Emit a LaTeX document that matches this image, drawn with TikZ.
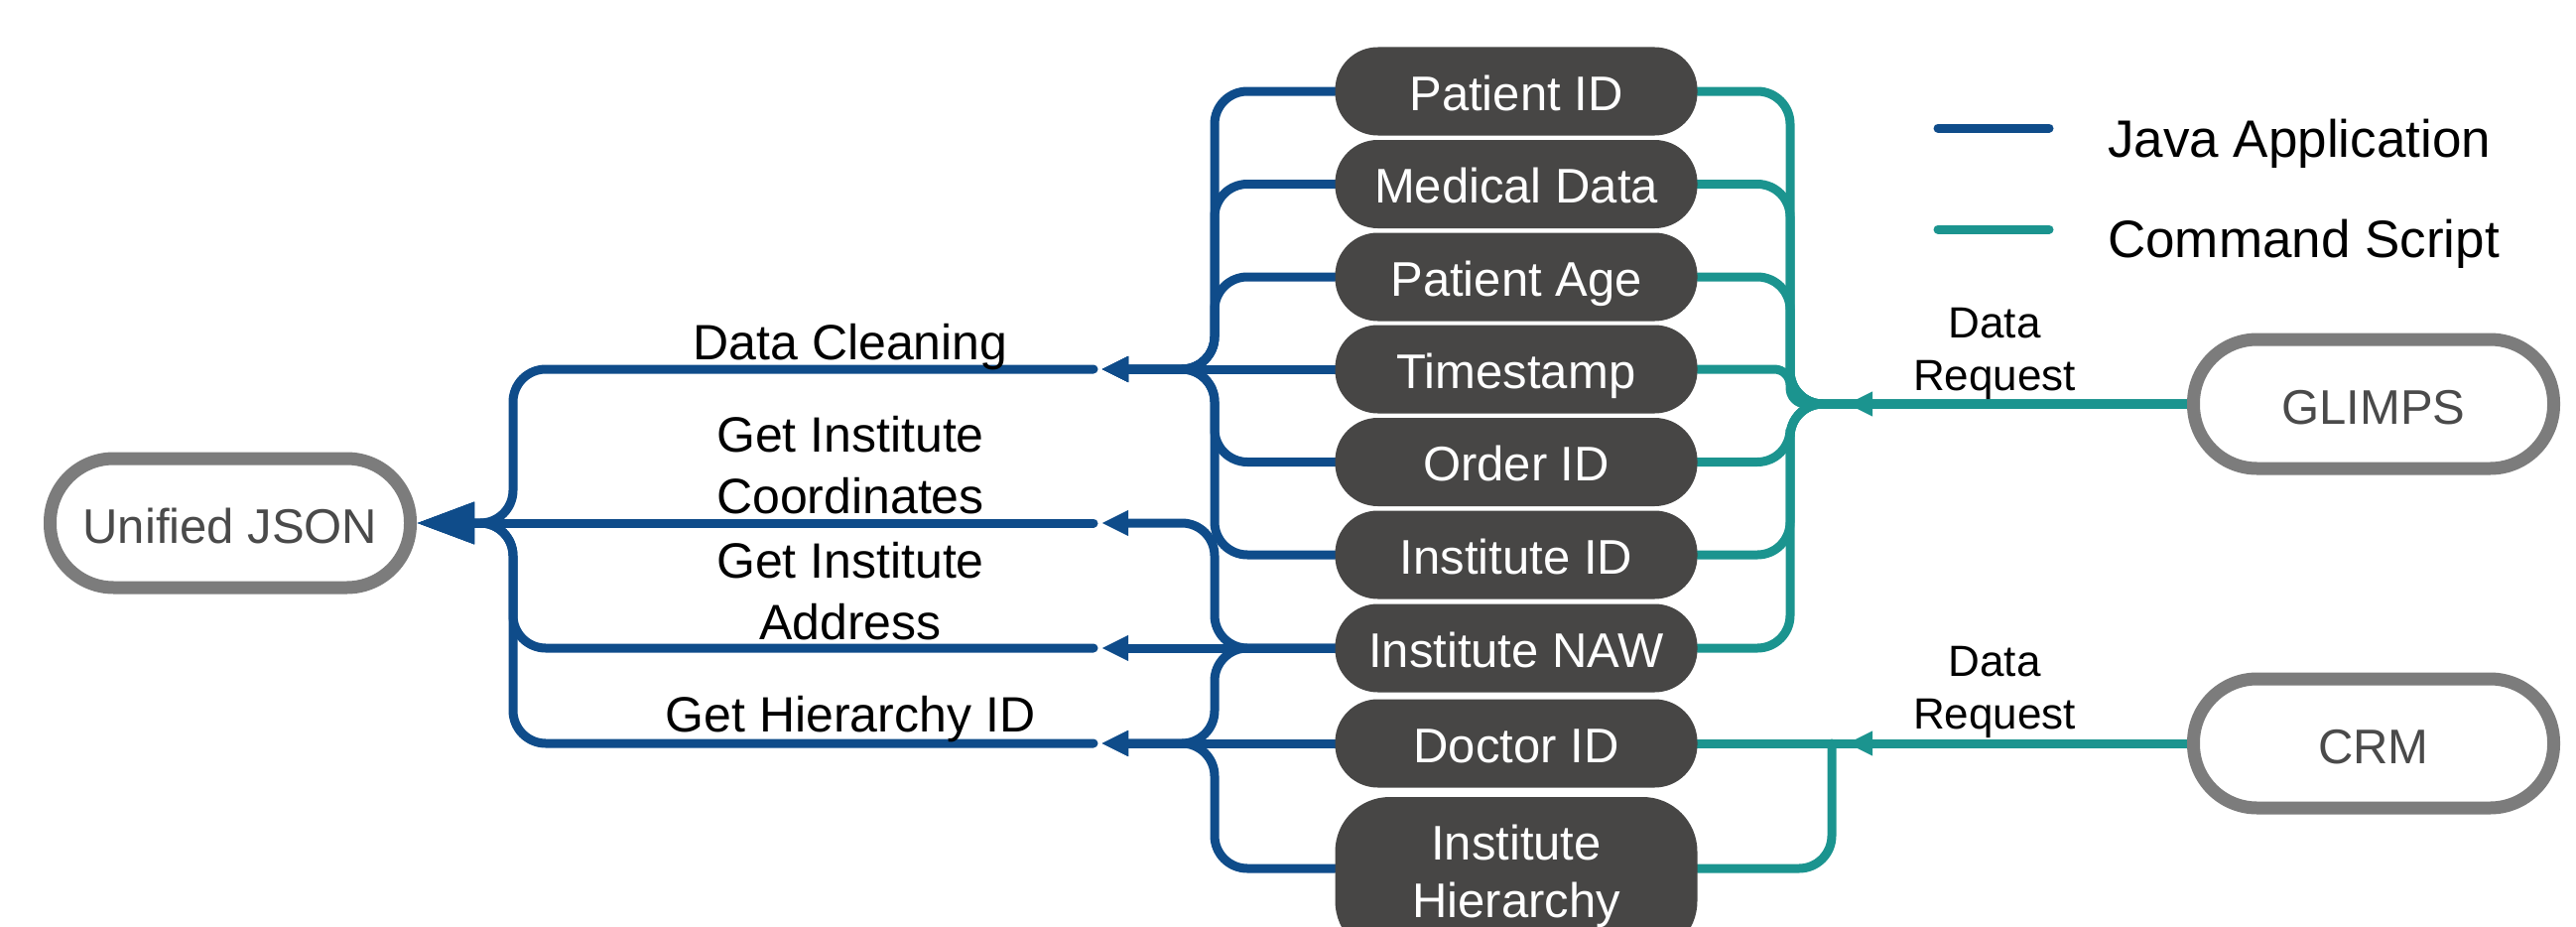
\documentclass[tikz,border=0pt]{standalone}
\usepackage{fontspec}
\setmainfont{Liberation Sans}
\usetikzlibrary{arrows.meta,backgrounds}
\definecolor{jblue}{RGB}{15,76,138}
\definecolor{cteal}{RGB}{27,148,143}
\definecolor{pillfill}{RGB}{71,70,69}
\definecolor{srcgray}{RGB}{124,124,124}
\definecolor{srctext}{RGB}{74,74,74}
\begin{document}
\begin{tikzpicture}[x=1pt,y=-1pt,
  jline/.style={draw=jblue,line width=9pt,line cap=round,rounded corners=33pt},
  cline/.style={draw=cteal,line width=9pt,line cap=round,rounded corners=33pt},
  jarrow/.style={-{Triangle[length=27pt,width=24pt]}},
  carrow/.style={-{Triangle[length=26pt,width=23pt]}},
  bigarrow/.style={-{Triangle[length=58pt,width=40pt]}},
  pill/.style={fill=pillfill,text=white,rounded corners=43pt,minimum width=365pt,minimum height=89pt,inner sep=0pt,text height=38pt,text depth=0pt,font=\fontsize{49}{58}\selectfont},
  pilltwo/.style={fill=pillfill,text=white,rounded corners=55pt,minimum width=365pt,minimum height=160pt,inner sep=0pt,align=center,font=\fontsize{49}{58}\selectfont},
  src/.style={draw=srcgray,line width=13pt,fill=white,text=srctext,rounded corners=64pt,minimum width=363pt,minimum height=130pt,inner sep=0pt,text height=40pt,text depth=0pt,font=\fontsize{49}{58}\selectfont},
  lbl/.style={inner sep=0pt,text=black,font=\fontsize{50}{62}\selectfont},
  drlbl/.style={inner sep=0pt,text=black,align=center,font=\fontsize{44}{53}\selectfont},
  lgd/.style={inner sep=0pt,text=black,anchor=base west,font=\fontsize{53}{60}\selectfont}
]
\useasboundingbox (0,0) rectangle (2596,934);

% source / sink nodes
\node[src] (UJ) at (232,527) {Unified JSON};
\node[src] (GL) at (2392,407) {GLIMPS};
\node[src] (CRM) at (2392,749) {CRM};

% data field pills
\node[pill] (PID) at (1528,92) {Patient ID};
\node[pill] (MD) at (1528,185.5) {Medical Data};
\node[pill] (PA) at (1528,279) {Patient Age};
\node[pill] (TS) at (1528,372) {Timestamp};
\node[pill] (OID) at (1528,465.5) {Order ID};
\node[pill] (IID) at (1528,559) {Institute ID};
\node[pill] (NAW) at (1528,653) {Institute NAW};
\node[pill] (DID) at (1528,749) {Doctor ID};
\node[pilltwo] (IH) at (1528,883) {Institute\\Hierarchy};

% helper coordinates
\coordinate (tL) at (517,527);
\coordinate (tM1) at (1224,372);
\coordinate (tM2) at (1224,527);
\coordinate (tM3) at (1224,749);
\coordinate (tR) at (1804,407);
\coordinate (bC) at (1846,749);
\coordinate (aDC) at (1110,372);
\coordinate (aCO) at (1110,527);
\coordinate (aAD) at (1110,653);
\coordinate (aHI) at (1110,749);
\coordinate (eDC) at (1102,372);
\coordinate (eCO) at (1102,527);
\coordinate (eAD) at (1102,653);
\coordinate (eHI) at (1102,749);
\coordinate (aG) at (1861,407);
\coordinate (aC) at (1861,749);
\coordinate (lj1) at (1953,129);
\coordinate (lj2) at (2065,129);
\coordinate (lc1) at (1953,231);
\coordinate (lc2) at (2065,231);

% labels
\node[lbl,anchor=base] (lDC) at (857,362) {Data Cleaning};
\node[lbl,anchor=north,align=center] (lCO) at (857,419) {Get Institute\\Coordinates};
\node[lbl,anchor=north,align=center] (lAD) at (857,546) {Get Institute\\Address};
\node[lbl,anchor=base] (lHI) at (857,737) {Get Hierarchy ID};
\node[drlbl,anchor=north] (dr1) at (2010,310) {Data\\Request};
\node[drlbl,anchor=north] (dr2) at (2010,651.5) {Data\\Request};

% legend
\node[lgd] (lgJ) at (2124,158) {Java Application};
\node[lgd] (lgC) at (2124,259) {Command Script};

\begin{scope}[on background layer]
  % left side into Unified JSON
  \draw[jline,bigarrow] (eDC) -| (tL) -- (UJ.east);
  \draw[jline,bigarrow] (eAD) -| (tL) -- (UJ.east);
  \draw[jline,bigarrow] (eHI) -| (tL) -- (UJ.east);
  \draw[jline,bigarrow] (eCO) -- (UJ.east);
  % blue from pills
  \foreach \n in {PID,MD,PA,OID,IID}
    \draw[jline,jarrow] (\n.west) -| (tM1) -- (aDC);
  \draw[jline,jarrow] (TS.west) -- (aDC);
  \draw[jline,jarrow] (NAW.west) -| (tM2) -- (aCO);
  \draw[jline,jarrow] (NAW.west) -- (aAD);
  \draw[jline,jarrow] (NAW.west) -| (tM3) -- (aHI);
  \draw[jline,jarrow] (DID.west) -- (aHI);
  \draw[jline,jarrow] ([yshift=8pt]IH.west) -| (tM3) -- (aHI);
  % teal from GLIMPS
  \foreach \n in {PID,MD,PA,OID,IID,NAW}
    \draw[cline] (\n.east) -| (tR) -- (GL.west);
  \draw[cline,rounded corners=16pt] (TS.east) -| (tR) -- (GL.west);
  \draw[cline,carrow] (GL.west) -- (aG);
  % teal from CRM
  \draw[cline] (CRM.west) -- (DID.east);
  \draw[cline,carrow] (CRM.west) -- (aC);
  \draw[cline] (bC) |- ([yshift=8pt]IH.east);
  % legend lines
  \draw[jline] (lj1) -- (lj2);
  \draw[cline] (lc1) -- (lc2);
\end{scope}
\end{tikzpicture}
\end{document}
